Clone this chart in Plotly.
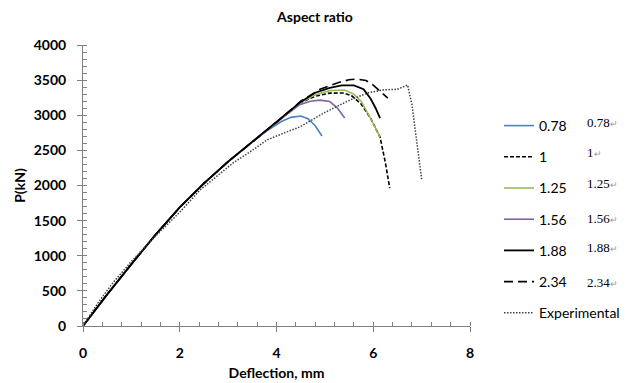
import plotly.graph_objects as go

# Deflection (mm) and load P (kN) for each aspect ratio
x_078 = [0, 0.5, 1, 1.5, 2, 2.5, 3, 3.5, 3.8, 4.1, 4.3, 4.5, 4.65, 4.8, 4.94]
y_078 = [0, 450, 880, 1300, 1690, 2030, 2340, 2620, 2780, 2910, 2970, 2990, 2950, 2850, 2705]

x_1 = [0, 0.5, 1, 1.5, 2, 2.5, 3, 3.5, 4, 4.5, 4.8, 5.1, 5.37, 5.55, 5.75, 5.95, 6.14, 6.25, 6.34]
y_1 = [0, 450, 880, 1300, 1690, 2030, 2340, 2620, 2900, 3180, 3270, 3315, 3317, 3280, 3160, 2950, 2690, 2330, 1964]

x_125 = [0, 0.5, 1, 1.5, 2, 2.5, 3, 3.5, 4, 4.5, 4.8, 5.1, 5.41, 5.6, 5.75, 5.95, 6.14]
y_125 = [0, 450, 880, 1300, 1690, 2030, 2340, 2620, 2900, 3180, 3290, 3350, 3360, 3300, 3200, 2950, 2690]

x_156 = [0, 0.5, 1, 1.5, 2, 2.5, 3, 3.5, 4, 4.48, 4.7, 4.9, 5.1, 5.25, 5.41]
y_156 = [0, 450, 880, 1300, 1690, 2030, 2340, 2620, 2900, 3150, 3200, 3215, 3195, 3110, 2960]

x_188 = [0, 0.5, 1, 1.5, 2, 2.5, 3, 3.5, 4, 4.5, 4.8, 5.1, 5.35, 5.6, 5.8, 5.95, 6.05, 6.14]
y_188 = [0, 450, 880, 1300, 1690, 2030, 2340, 2620, 2900, 3190, 3320, 3390, 3425, 3425, 3370, 3230, 3100, 2960]

x_234 = [0, 0.5, 1, 1.5, 2, 2.5, 3, 3.5, 4, 4.5, 4.9, 5.3, 5.5, 5.66, 5.85, 6.0, 6.15, 6.3]
y_234 = [0, 450, 880, 1300, 1690, 2030, 2340, 2620, 2900, 3200, 3370, 3470, 3505, 3516, 3495, 3430, 3340, 3245]

x_exp = [0, 0.3, 0.6, 1, 1.5, 2, 2.42, 2.8, 3.1, 3.5, 3.8, 4.2, 4.48, 5.0, 5.52, 5.9, 6.2, 6.5, 6.6, 6.71, 6.8, 6.9, 7.0]
y_exp = [0, 320, 600, 920, 1280, 1620, 1936, 2150, 2320, 2500, 2648, 2760, 2833, 3040, 3217, 3320, 3360, 3370, 3400, 3430, 3150, 2650, 2092]

names = ["0.78", "1", "1.25", "1.56", "1.88", "2.34", "Experimental"]
series_x = [x_078, x_1, x_125, x_156, x_188, x_234, x_exp]
series_y = [y_078, y_1, y_125, y_156, y_188, y_234, y_exp]
colors = ["#4F81BD", "#000000", "#9BBB59", "#8064A2", "#000000", "#000000", "#404040"]
dashes = ["solid", "4px,2px", "solid", "solid", "solid", "9px,5px", "1.5px,1.5px"]
widths = [1.6, 1.6, 1.6, 1.6, 1.8, 1.6, 1.5]
extra_labels = ["0.78", "1", "1.25", "1.56", "1.88", "2.34"]

fig = go.Figure()
for i in range(len(names)):
    fig.add_trace(go.Scatter(
        x=series_x[i], y=series_y[i], mode="lines", name=names[i],
        legendgroup=names[i],
        line=dict(color=colors[i], dash=dashes[i], width=widths[i]),
    ))

# page body has an 8px margin: figure is placed at (8,8) in the window
OFF = 8
W, H = 629 - OFF, 383 - OFF
L, T = 83 - OFF, 45 - OFF
R, B = 629 - 470, 383 - 326
pw, ph = W - L - R, H - T - B

def wx(px):  # window px -> paper x
    return (px - OFF - L) / pw

def wy(py):  # window py -> paper y
    return 1 - (py - OFF - T) / ph

label_y_px = [122, 152, 183, 218, 247, 282]
for lab, py in zip(extra_labels, label_y_px):
    fig.add_annotation(
        x=wx(585), y=wy(py), xref="paper", yref="paper",
        xanchor="left", yanchor="middle", showarrow=False,
        text=lab + "<span style='font-size:9px;color:#999999'>↵</span>",
        font=dict(family="Liberation Serif", size=13, color="#000000"),
    )

axis_font = dict(family="Lato", size=14, color="#000000")
fig.update_layout(
    width=W, height=H,
    margin=dict(l=L, r=R, t=T, b=B, autoexpand=False),
    paper_bgcolor="white", plot_bgcolor="white",
    font=dict(family="Lato", size=14, color="#000000"),
    title=dict(text="<b>Aspect ratio</b>", x=(315 - OFF) / W, xref="container", xanchor="center",
               y=1, yref="container", yanchor="top", pad=dict(t=4),
               font=dict(family="Lato", size=14, color="#000000")),
    showlegend=True,
    legend=dict(x=wx(499), y=wy(110), xanchor="left", yanchor="top",
                tracegroupgap=10, bgcolor="rgba(0,0,0,0)",
                font=dict(family="Lato", size=14, color="#000000")),
    xaxis=dict(range=[0, 8], dtick=2, tick0=0, showgrid=False, zeroline=False,
               showline=True, linecolor="#808080", linewidth=1,
               ticks="outside", ticklen=5, tickcolor="#808080", ticklabelstandoff=9,
               tickfont=axis_font, tickprefix="<b>", ticksuffix="</b>",
               minor=dict(dtick=0.4, ticks="inside", ticklen=4, tickcolor="#808080", showgrid=False),
               title=dict(text="<b>Deflection, mm</b>", font=axis_font, standoff=8)),
    yaxis=dict(range=[0, 4000], dtick=500, tick0=0, showgrid=False, zeroline=False,
               showline=True, linecolor="#808080", linewidth=1,
               ticks="outside", ticklen=5, tickcolor="#808080", ticklabelstandoff=8,
               tickfont=axis_font, tickprefix="<b>", ticksuffix="</b>",
               minor=dict(dtick=100, ticks="inside", ticklen=4, tickcolor="#808080", showgrid=False),
               title=dict(text="<b>P(kN)</b>", font=axis_font, standoff=4)),
)

fig.write_html("out.html")
